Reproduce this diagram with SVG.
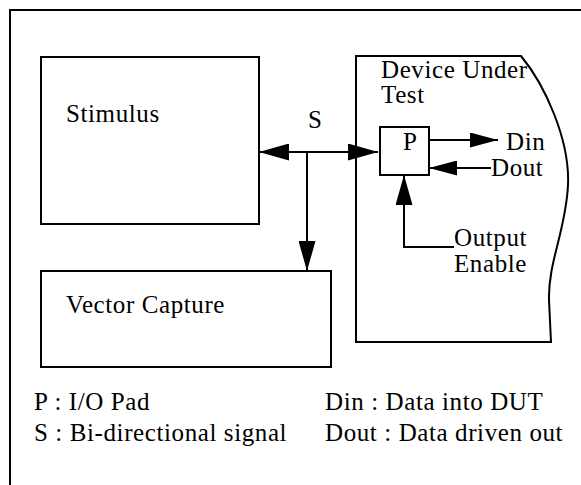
<svg xmlns="http://www.w3.org/2000/svg" width="581" height="485" viewBox="0 0 581 485">
<style>
.box{fill:#fff;stroke:#000;stroke-width:2}
.ln{fill:none;stroke:#000;stroke-width:2}
.t{font-family:'Liberation Serif','DejaVu Serif','Times New Roman',serif;font-size:25px;letter-spacing:0.6px;fill:#000}
</style>
<defs>
<marker id="ah" markerUnits="userSpaceOnUse" markerWidth="30" markerHeight="17" refX="30" refY="8.5" orient="auto-start-reverse" viewBox="0 0 30 17">
<path d="M0,0 L30,8.5 L0,17 z" fill="#000"/>
</marker>
<marker id="ahs" markerUnits="userSpaceOnUse" markerWidth="28" markerHeight="15" refX="28" refY="7.5" orient="auto-start-reverse" viewBox="0 0 28 15">
<path d="M0,0 L28,7.5 L0,15 z" fill="#000"/>
</marker>
</defs>
<rect width="581" height="485" fill="#fff"/>
<path class="ln" d="M10,500 L10,10 L600,10"/>
<g id="stimulus">
<rect class="box" x="41" y="57" width="218" height="167"/>
<text class="t" x="66" y="122">Stimulus</text>
</g>
<g id="vector-capture">
<rect class="box" x="41" y="271" width="290" height="96"/>
<text class="t" x="66" y="313">Vector Capture</text>
</g>
<g id="dut">
<path class="box" d="M356,56 L521,56 C545,85 570,140 568,185 C566,230 548,262 549,300 L551,342 L356,342 Z"/>
<text class="t" x="381" y="78">Device Under</text>
<text class="t" x="381" y="103">Test</text>
</g>
<g id="pad">
<rect class="box" x="380" y="127" width="49" height="48"/>
<text class="t" x="403" y="150">P</text>
</g>
<g id="labels">
<text class="t" x="308" y="128">S</text>
<text class="t" x="506" y="150">Din</text>
<text class="t" x="491" y="176">Dout</text>
<text class="t" x="454" y="246">Output</text>
<text class="t" x="454" y="272">Enable</text>
</g>
<g id="connectors">
<line class="ln" x1="259" y1="152" x2="378" y2="152" marker-start="url(#ah)" marker-end="url(#ah)"/>
<line class="ln" x1="307" y1="152" x2="307" y2="271" marker-end="url(#ah)"/>
<line class="ln" x1="429" y1="140" x2="498" y2="140" marker-end="url(#ahs)"/>
<line class="ln" x1="491" y1="168" x2="429" y2="168" marker-end="url(#ahs)"/>
<polyline class="ln" points="454,247 404,247 404,175" marker-end="url(#ah)"/>
</g>
<g id="legend">
<text class="t" x="34" y="410">P : I/O Pad</text>
<text class="t" x="34" y="441">S : Bi-directional signal</text>
<text class="t" x="325" y="410">Din : Data into DUT</text>
<text class="t" x="325" y="441">Dout : Data driven out</text>
</g>
</svg>
